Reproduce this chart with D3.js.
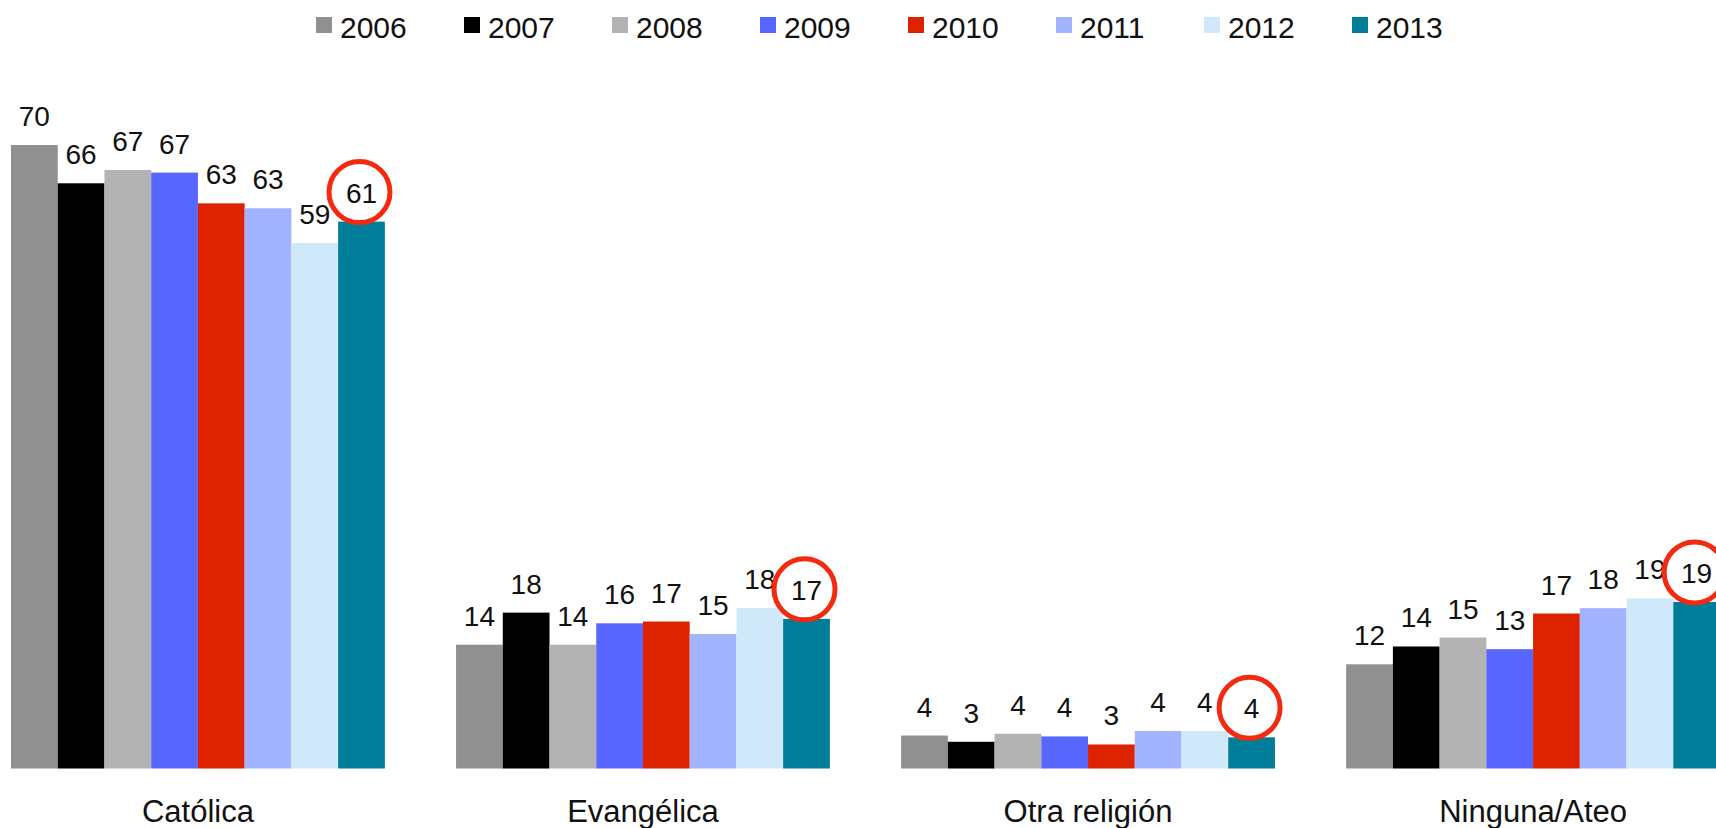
<!DOCTYPE html>
<html>
<head>
<meta charset="utf-8">
<script src="https://cdn.jsdelivr.net/npm/d3@7"></script>
<style>
  html, body { margin: 0; padding: 0; background: #fff; }
  svg { display: block; font-family: "Liberation Sans", Arial, sans-serif; }
</style>
</head>
<body>
<div id="chart"></div>
<script>
// categorieen en jaren
const categories = ["Católica", "Evangélica", "Otra religión", "Ninguna/Ateo"];
const years = ["2006", "2007", "2008", "2009", "2010", "2011", "2012", "2013"];

// waarden per jaar (volgorde: Católica, Evangélica, Otra religión, Ninguna/Ateo)
const v2006 = [70, 13.9, 3.7, 11.7];
const v2007 = [65.7, 17.5, 3.0, 13.7];
const v2008 = [67.2, 13.9, 3.9, 14.7];
const v2009 = [66.9, 16.3, 3.6, 13.4];
const v2010 = [63.45, 16.5, 2.7, 17.4];
const v2011 = [62.9, 15.1, 4.2, 18.0];
const v2012 = [59.0, 18.0, 4.2, 19.1];
const v2013 = [61.4, 16.8, 3.5, 18.7];

const colors = ["#909090", "#000000", "#b3b3b3", "#5766ff", "#dd2200", "#a2b3ff", "#cfe9fa", "#007d99"];

const series = [v2006, v2007, v2008, v2009, v2010, v2011, v2012, v2013];

// tabel voor d3: een rij per categorie
const table = categories.map(function(c, ci) {
  return {
    category: c,
    values: years.map(function(y, yi) { return { year: y, value: series[yi][ci] }; })
  };
});

const width = 1716;
const height = 828;

const svg = d3.select("#chart")
  .append("svg")
  .attr("width", width)
  .attr("height", height);

const x = d3.scaleBand()
  .domain(categories)
  .range([11, 1720])
  .paddingInner(0.16)
  .paddingOuter(0);

const xYear = d3.scaleBand()
  .domain(years)
  .range([0, x.bandwidth()]);

const y = d3.scaleLinear()
  .domain([0, 70])
  .range([768.5, 145]);

const color = d3.scaleOrdinal().domain(years).range(colors);

const groups = svg.selectAll(".group")
  .data(table)
  .enter()
  .append("g")
  .attr("class", "group")
  .attr("transform", function(d) { return `translate(${x(d.category)},0)`; });

groups.selectAll("rect")
  .data(function(d) { return d.values; })
  .enter()
  .append("rect")
  .attr("x", function(d) { return xYear(d.year); })
  .attr("y", function(d) { return y(d.value); })
  .attr("width", xYear.bandwidth())
  .attr("height", function(d) { return y(0) - y(d.value); })
  .attr("fill", function(d) { return color(d.year); });

// waardelabels boven de staven
groups.selectAll(".val")
  .data(function(d) { return d.values; })
  .enter()
  .append("text")
  .attr("class", "val")
  .attr("x", function(d) { return xYear(d.year) + xYear.bandwidth() / 2; })
  .attr("y", function(d) { return y(d.value) - 19; })
  .attr("text-anchor", "middle")
  .style("font-size", "28px")
  .style("fill", "#111")
  .text(function(d) { return Math.round(d.value); });

// rode cirkels rond de 2013 labels
groups.append("circle")
  .attr("cx", function(d) { return xYear("2013") + xYear.bandwidth() / 2 - 2; })
  .attr("cy", function(d) { return y(d.values[7].value) - 29.5; })
  .attr("r", 30.5)
  .attr("fill", "none")
  .attr("stroke", "#f42a10")
  .attr("stroke-width", 5);

// categorie labels
groups.append("text")
  .attr("x", x.bandwidth() / 2)
  .attr("y", 822)
  .attr("text-anchor", "middle")
  .style("font-size", "31px")
  .style("fill", "#111")
  .text(function(d) { return d.category; });

// legenda
const legend = svg.selectAll(".legend")
  .data(years)
  .enter()
  .append("g")
  .attr("class", "legend")
  .attr("transform", function(d, i) { return `translate(${316 + i * 148},0)`; });

legend.append("rect")
  .attr("x", 0)
  .attr("y", 17)
  .attr("width", 16)
  .attr("height", 16)
  .attr("fill", function(d) { return color(d); });

legend.append("text")
  .attr("x", 24)
  .attr("y", 38)
  .style("font-size", "30px")
  .style("fill", "#111")
  .text(function(d) { return d; });
</script>
</body>
</html>
